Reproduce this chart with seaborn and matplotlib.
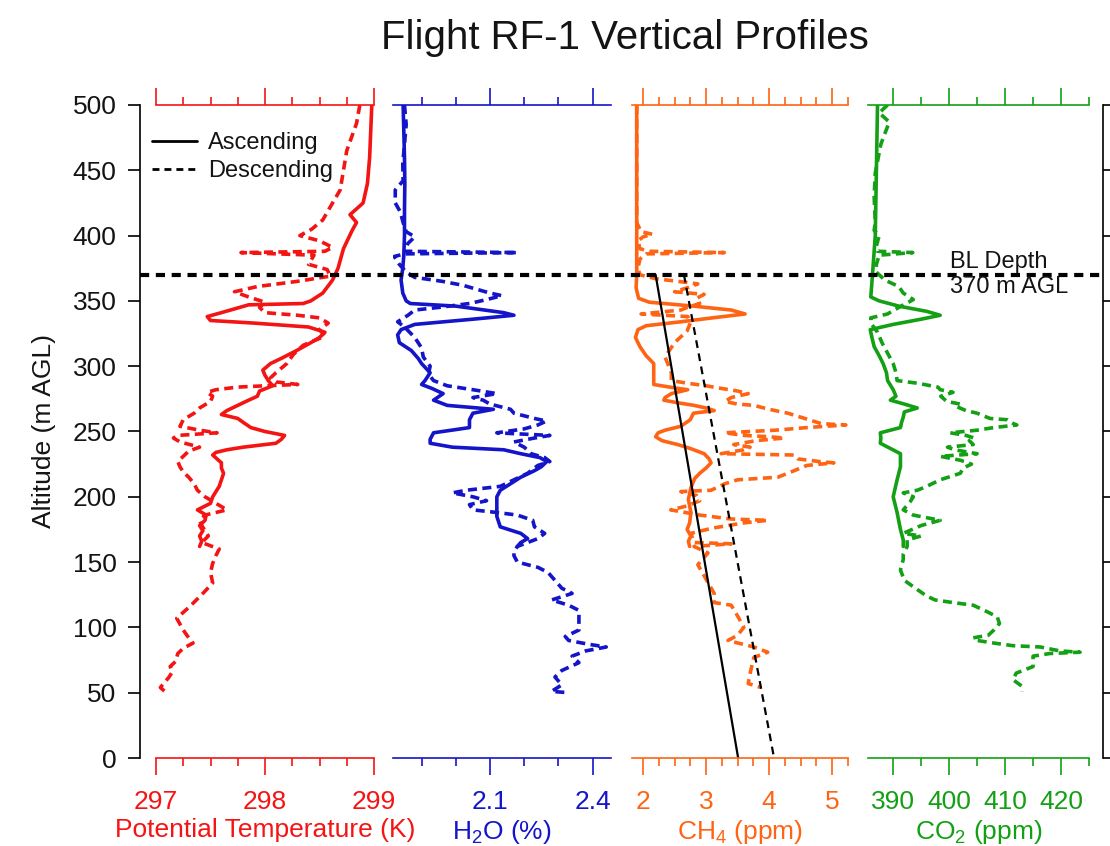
import matplotlib
matplotlib.use("Agg")
import matplotlib.pyplot as plt
import seaborn as sns
import numpy as np
from matplotlib.lines import Line2D

# ---------------------------------------------------------------- data
# Ascending leg (solid) and descending leg (dashed); altitude in m AGL
temp_up_alt = [500, 480, 460, 440, 425, 416, 410, 404, 390, 375, 366, 356, 350, 348, 347, 341, 338, 335,
               333, 330, 326, 322, 318, 312, 306, 302, 297, 293, 289, 285, 281, 277, 274, 270, 266, 263,
               260, 257, 253, 250, 247, 244, 241, 238, 236, 234, 232, 229, 226, 222, 218, 213, 208, 204,
               200, 195, 190, 186, 182, 178, 174, 170, 166, 162]
temp_up = [298.98, 298.97, 298.96, 298.94, 298.90, 298.78, 298.84, 298.80, 298.72, 298.67, 298.62, 298.53,
           298.42, 298.35, 297.85, 297.60, 297.47, 297.50, 297.90, 298.40, 298.55, 298.50, 298.42, 298.29,
           298.15, 298.05, 297.98, 298.00, 298.03, 298.07, 297.95, 297.93, 297.85, 297.75, 297.65, 297.60,
           297.75, 297.80, 297.87, 298.00, 298.18, 298.15, 298.10, 297.80, 297.65, 297.55, 297.52, 297.56,
           297.60, 297.60, 297.62, 297.60, 297.58, 297.55, 297.52, 297.50, 297.38, 297.46, 297.45, 297.40,
           297.43, 297.40, 297.42, 297.40]

temp_dn_alt = [500, 486, 465, 450, 435, 425, 412, 405, 400, 396, 391, 388, 387, 385, 378, 374, 369, 365,
               361, 357, 353, 349, 345, 341, 339, 337, 333, 328, 323, 316, 309, 302, 295, 291, 288, 286,
               285, 284, 282, 280, 277, 273, 268, 264, 259, 254, 251, 249, 247, 245, 242, 238, 235, 231,
               227, 223, 219, 215, 210, 205, 200, 195, 190, 186, 182, 178, 174, 170, 165, 160, 155, 149,
               142, 134, 126, 116, 107, 98, 92, 88, 84, 80, 74, 70, 66, 62, 58, 54, 51]
temp_dn = [298.87, 298.84, 298.75, 298.72, 298.69, 298.62, 298.53, 298.43, 298.32, 298.50, 298.62, 298.55,
           297.78, 298.45, 298.40, 298.57, 298.60, 298.30, 297.93, 297.72, 297.85, 298.00, 297.95, 298.00,
           298.30, 298.50, 298.58, 298.50, 298.55, 298.35, 298.26, 298.20, 298.10, 298.05, 298.10, 298.30,
           298.00, 297.75, 297.55, 297.47, 297.52, 297.50, 297.40, 297.35, 297.25, 297.22, 297.40, 297.56,
           297.20, 297.16, 297.22, 297.40, 297.30, 297.25, 297.20, 297.22, 297.25, 297.30, 297.35, 297.38,
           297.45, 297.55, 297.65, 297.45, 297.40, 297.42, 297.45, 297.48, 297.42, 297.58, 297.55, 297.52,
           297.50, 297.52, 297.43, 297.31, 297.19, 297.25, 297.30, 297.34, 297.25, 297.20, 297.18, 297.13,
           297.15, 297.12, 297.08, 297.04, 297.08]

h2o_up_alt = [500, 480, 460, 440, 420, 400, 385, 375, 366, 356, 350, 348, 346, 341, 339, 336, 332, 328,
              324, 318, 312, 306, 302, 295, 289, 286, 283, 279, 274, 270, 267, 264, 259, 253, 249, 244,
              241, 238, 236, 233, 230, 227, 223, 220, 215, 210, 205, 200, 195, 185, 177, 172, 168, 165, 162]
h2o_up = [1.846, 1.848, 1.850, 1.851, 1.850, 1.850, 1.848, 1.845, 1.840, 1.845, 1.855, 1.867, 2.000,
          2.140, 2.170, 2.050, 1.880, 1.840, 1.830, 1.835, 1.870, 1.890, 1.900, 1.925, 1.910, 1.900, 1.930,
          1.963, 1.935, 1.975, 2.110, 2.050, 2.040, 2.040, 1.935, 1.925, 1.925, 1.990, 2.140, 2.190, 2.246,
          2.266, 2.250, 2.230, 2.190, 2.160, 2.130, 2.120, 2.120, 2.120, 2.130, 2.190, 2.210, 2.190, 2.180]

h2o_dn_alt = [500, 485, 470, 455, 442, 435, 425, 418, 410, 403, 399, 394, 388, 387, 386, 384, 378, 372,
              368, 365, 362, 359, 356, 354, 351, 348, 345, 343, 339, 334, 330, 322, 314, 307, 300, 294,
              289, 285, 282, 279, 276, 274, 271, 267, 264, 260, 258, 255, 252, 249, 247, 245, 242, 238,
              233, 230, 227, 224, 218, 213, 208, 205, 203, 200, 197, 194, 190, 188, 186, 182, 177, 172,
              168, 162, 158, 155, 150, 146, 142, 136, 130, 126, 121, 117, 113, 105, 98, 93, 90, 87, 85,
              82, 78, 73, 67, 62, 56, 51, 50]
h2o_dn = [1.850, 1.855, 1.850, 1.845, 1.846, 1.823, 1.823, 1.838, 1.846, 1.855, 1.880, 1.860, 1.850,
          2.180, 1.850, 1.820, 1.835, 1.855, 1.880, 1.960, 2.020, 2.060, 2.100, 2.135, 2.090, 2.040, 1.950,
          1.880, 1.860, 1.830, 1.850, 1.880, 1.900, 1.905, 1.925, 1.920, 1.935, 1.975, 2.050, 2.120, 2.050,
          2.080, 2.100, 2.160, 2.170, 2.230, 2.265, 2.240, 2.200, 2.120, 2.275, 2.230, 2.170, 2.200, 2.220,
          2.260, 2.275, 2.240, 2.210, 2.170, 2.130, 2.030, 1.990, 2.050, 2.090, 2.040, 2.050, 2.120, 2.180,
          2.225, 2.230, 2.260, 2.240, 2.180, 2.170, 2.170, 2.180, 2.240, 2.270, 2.290, 2.310, 2.340, 2.280,
          2.330, 2.360, 2.360, 2.360, 2.320, 2.330, 2.390, 2.440, 2.380, 2.340, 2.360, 2.310, 2.290, 2.310,
          2.280, 2.330]

ch4_up_alt = [500, 450, 400, 370, 360, 352, 349, 346, 343, 340, 337, 334, 331, 328, 322, 315, 308, 302,
              292, 286, 283, 282, 279, 276, 274, 272, 270, 268, 266, 264, 259, 254, 251, 249, 246, 243,
              240, 237, 233, 229, 226, 222, 218, 214, 207, 198, 188, 180, 175, 170, 166, 162]
ch4_up = [1.90, 1.90, 1.90, 1.90, 1.89, 1.93, 2.10, 2.80, 3.40, 3.62, 3.10, 2.60, 2.05, 1.92, 1.88, 1.95,
          2.05, 2.17, 2.17, 2.17, 2.55, 2.71, 2.45, 2.35, 2.33, 2.55, 2.81, 3.00, 3.13, 2.80, 2.75, 2.60,
          2.35, 2.24, 2.20, 2.30, 2.55, 2.75, 2.97, 3.05, 3.08, 3.00, 2.90, 2.82, 2.76, 2.72, 2.76, 2.74,
          2.70, 2.76, 2.72, 2.74]

ch4_dn_alt = [500, 450, 410, 403, 401, 399, 396, 390, 388, 387, 386, 382, 375, 370, 367, 365, 363, 360,
              357, 355, 352, 348, 345, 343, 340, 338, 333, 327, 318, 307, 295, 289, 287, 285, 283, 281,
              279, 276, 273, 271, 270, 267, 264, 261, 258, 256, 255, 253, 251, 249, 247, 246, 245, 243,
              240, 238, 236, 233, 232, 229, 227, 226, 224, 220, 215, 213, 210, 205, 204, 201, 197, 193,
              190, 186, 183, 182, 180, 176, 172, 165, 164, 162, 157, 148, 137, 126, 119, 117, 108, 100,
              94, 90, 88, 85, 81, 77, 67, 57, 54]
ch4_dn = [1.90, 1.90, 1.90, 1.97, 2.15, 2.00, 1.92, 1.95, 2.10, 3.29, 2.05, 1.95, 1.92, 1.95, 2.20, 2.55,
          2.87, 2.70, 2.50, 2.97, 2.85, 2.90, 2.70, 2.60, 1.97, 2.71, 2.75, 2.70, 2.50, 2.35, 2.45, 2.45,
          2.70, 3.00, 3.24, 3.50, 3.67, 3.40, 3.30, 3.50, 3.76, 4.00, 4.30, 4.50, 4.70, 4.83, 5.22, 4.60,
          4.10, 3.30, 3.60, 4.00, 4.24, 3.80, 3.44, 3.70, 3.60, 3.24, 4.40, 4.46, 4.80, 5.03, 4.60, 4.40,
          4.14, 3.50, 3.30, 3.08, 2.60, 2.85, 2.90, 2.70, 2.44, 2.90, 3.40, 3.98, 3.60, 3.10, 2.76, 2.81,
          3.40, 2.81, 3.03, 2.87, 3.00, 3.13, 3.13, 3.40, 3.51, 3.60, 3.50, 3.35, 3.51, 3.76, 3.98, 3.76,
          3.71, 3.67, 3.87]

# linear CH4 trends below the boundary-layer top
ch4_fit_alt = [370, 0]
ch4_fit_up = [2.20, 3.51]
ch4_fit_dn = [2.65, 4.08]

co2_up_alt = [500, 450, 400, 370, 353, 350, 346, 342, 339, 336, 332, 328, 322, 315, 308, 302, 295, 289,
              282, 277, 274, 271, 268, 265, 261, 257, 253, 249, 245, 241, 237, 233, 228, 223, 213, 200,
              188, 175, 167, 162]
co2_up = [387.2, 387.0, 386.8, 386.3, 386.0, 387.5, 391.0, 396.0, 398.4, 395.0, 390.0, 385.9, 386.2,
          386.6, 387.5, 388.2, 388.8, 389.0, 390.0, 390.5, 389.5, 392.0, 394.3, 392.0, 391.8, 391.5,
          391.3, 387.7, 387.8, 387.7, 389.5, 391.3, 391.3, 391.3, 390.7, 390.0, 390.7, 391.3, 391.8, 391.8]

co2_dn_alt = [500, 494, 487, 470, 448, 430, 410, 404, 400, 392, 388, 387, 385, 378, 372, 366, 361, 356,
              351, 345, 340, 337, 333, 326, 318, 310, 302, 295, 289, 287, 284, 282, 280, 277, 273, 271,
              269, 266, 264, 260, 259, 256, 255, 253, 251, 249, 247, 245, 243, 240, 238, 236, 233, 231,
              228, 225, 222, 218, 213, 208, 205, 203, 200, 196, 190, 186, 184, 182, 178, 172, 170, 167,
              162, 156, 152, 144, 136, 129, 124, 121, 119, 117, 112, 108, 103, 98, 94, 92, 90, 88, 86,
              85, 82, 81, 80, 78, 75, 70, 65, 60, 55, 51]
co2_dn = [389.0, 387.5, 389.3, 387.8, 386.8, 386.6, 386.8, 386.6, 387.5, 387.0, 387.2, 393.5, 387.5,
          387.0, 387.0, 388.5, 391.0, 391.8, 393.6, 391.0, 389.0, 386.0, 386.0, 387.2, 388.0, 389.0,
          390.0, 390.5, 390.7, 394.3, 398.0, 398.4, 400.7, 398.5, 399.6, 402.0, 401.4, 403.0, 405.0,
          407.3, 410.4, 411.5, 412.1, 408.0, 405.0, 400.2, 403.0, 404.5, 403.6, 404.3, 399.7, 401.0,
          405.0, 398.4, 402.0, 404.0, 402.5, 402.0, 398.4, 396.0, 394.3, 391.8, 393.6, 393.0, 391.8,
          393.6, 396.0, 398.4, 395.0, 391.8, 395.0, 392.5, 392.5, 391.8, 391.8, 391.3, 392.0, 394.3,
          396.0, 397.5, 400.7, 404.3, 406.8, 408.6, 409.0, 408.0, 407.0, 404.3, 405.0, 408.0, 411.4,
          416.3, 419.8, 423.4, 418.0, 415.0, 415.0, 415.0, 412.0, 411.4, 413.0, 413.0]

bl_depth = 370
alt_ticks = list(range(0, 501, 50))

# ---------------------------------------------------------------- style
sns.set_theme(style="white")
plt.rcParams['font.family'] = ['Liberation Sans', 'DejaVu Sans']
plt.rcParams['mathtext.fontset'] = 'custom'
plt.rcParams['mathtext.rm'] = 'Liberation Sans'
plt.rcParams['mathtext.default'] = 'regular'

RED = '#f51414'
BLUE = '#1414c8'
ORANGE = '#ff6414'
GREEN = '#14a014'
INK = '#141414'

W, H = 1110, 846
fig = plt.figure(figsize=(W / 100, H / 100), dpi=100)
fig.patch.set_facecolor('white')

TOP, BOT = 105, 758


def rect(x0, x1):
    return [x0 / W, (H - BOT) / H, (x1 - x0) / W, (BOT - TOP) / H]


panel_specs = [
    dict(x=(156, 374), lim=(297, 299), major=[297, 298, 299], minor=np.arange(297, 299.01, 0.25),
         fmt="{:.0f}", color=RED, label="Potential Temperature (K)",
         up=(temp_up, temp_up_alt), dn=(temp_dn, temp_dn_alt)),
    dict(x=(393, 611), lim=(1.8164, 2.4538), major=[2.1, 2.4], minor=[1.9, 2.0, 2.2, 2.3],
         fmt="{:.1f}", color=BLUE, label="H$_2$O (%)",
         up=(h2o_up, h2o_up_alt), dn=(h2o_dn, h2o_dn_alt)),
    dict(x=(632, 848), lim=(1.825, 5.254), major=[2, 3, 4, 5], minor=np.arange(2, 5.26, 0.25),
         fmt="{:.0f}", color=ORANGE, label="CH$_4$ (ppm)",
         up=(ch4_up, ch4_up_alt), dn=(ch4_dn, ch4_dn_alt)),
    dict(x=(868, 1089), lim=(385.5, 425), major=[390, 400, 410, 420], minor=[395, 405, 415, 425],
         fmt="{:.0f}", color=GREEN, label="CO$_2$ (ppm)",
         up=(co2_up, co2_up_alt), dn=(co2_dn, co2_dn_alt)),
]

LW = 2.6
DASH = (0, (2.5, 1.5))

panel_axes = []
for spec in panel_specs:
    ax = fig.add_axes(rect(*spec['x']))
    ax.set_zorder(1)
    ax.patch.set_visible(False)
    c = spec['color']
    sns.lineplot(x=spec['up'][0], y=spec['up'][1], sort=False, estimator=None,
                 color=c, linewidth=LW, ax=ax)
    sns.lineplot(x=spec['dn'][0], y=spec['dn'][1], sort=False, estimator=None,
                 color=c, linewidth=LW, linestyle=DASH, ax=ax)
    ax.set_xlim(*spec['lim'])
    ax.set_ylim(0, 500)
    ax.set_yticks([])
    ax.set_ylabel("")
    for side in ('left', 'right'):
        ax.spines[side].set_visible(False)
    for side in ('top', 'bottom'):
        ax.spines[side].set_visible(True)
        ax.spines[side].set_color(c)
        ax.spines[side].set_linewidth(1.2)
    ax.set_xticks(spec['major'])
    ax.set_xticklabels([spec['fmt'].format(v) for v in spec['major']])
    ax.set_xticks(spec['minor'], minor=True)
    ax.tick_params(axis='x', which='both', top=True, bottom=True, labeltop=False,
                   labelbottom=True, direction='out', color=c, labelcolor=c, width=1.2)
    ax.tick_params(axis='x', which='major', length=12, labelsize=19, pad=11)
    ax.tick_params(axis='x', which='minor', length=6)
    ax.set_xlabel(spec['label'], color=c, fontsize=19, labelpad=3)
    panel_axes.append(ax)

# CH4 trend lines for the two legs
ax_ch4 = panel_axes[2]
sns.lineplot(x=ch4_fit_up, y=ch4_fit_alt, sort=False, estimator=None, color='black',
             linewidth=1.6, ax=ax_ch4)
sns.lineplot(x=ch4_fit_dn, y=ch4_fit_alt, sort=False, estimator=None, color='black',
             linewidth=1.6, linestyle=(0, (3.5, 2.5)), ax=ax_ch4)

# shared altitude axis on top of the panels
main = fig.add_axes(rect(140, 1103))
main.set_zorder(3)
main.patch.set_visible(False)
main.set_xlim(0, 1)
main.set_ylim(0, 500)
main.set_xticks([])
main.set_yticks(alt_ticks)
for side in ('top', 'bottom'):
    main.spines[side].set_visible(False)
for side in ('left', 'right'):
    main.spines[side].set_visible(True)
    main.spines[side].set_color('black')
    main.spines[side].set_linewidth(1.2)
main.tick_params(axis='y', which='major', left=True, right=True, labelleft=True,
                 labelright=False, direction='out', length=9, width=1.2,
                 labelsize=19, pad=8, color='black', labelcolor=INK)
main.set_ylabel("Altitude (m AGL)", fontsize=19, labelpad=12, color=INK)

main.axhline(bl_depth, color='black', linewidth=3.0, linestyle=(0, (2.2, 1.6)))
main.text(0.841, bl_depth, "BL Depth\n370 m AGL", ha='left', va='center',
          fontsize=17, linespacing=1.2, color=INK)

handles = [Line2D([0], [0], color='black', lw=2.0, linestyle='-'),
           Line2D([0], [0], color='black', lw=2.0, linestyle=(0, (2.5, 1.8)))]
main.legend(handles, ["Ascending", "Descending"], loc='upper left',
            bbox_to_anchor=(0.0125, 0.958), frameon=False, fontsize=17,
            handlelength=1.9, handletextpad=0.47, labelspacing=0.25,
            borderpad=0, borderaxespad=0, labelcolor=INK)

fig.text(625 / W, 1 - 38 / H, "Flight RF-1 Vertical Profiles", ha='center', va='center',
         fontsize=29, color=INK)

fig.savefig("out.png", dpi=100)
